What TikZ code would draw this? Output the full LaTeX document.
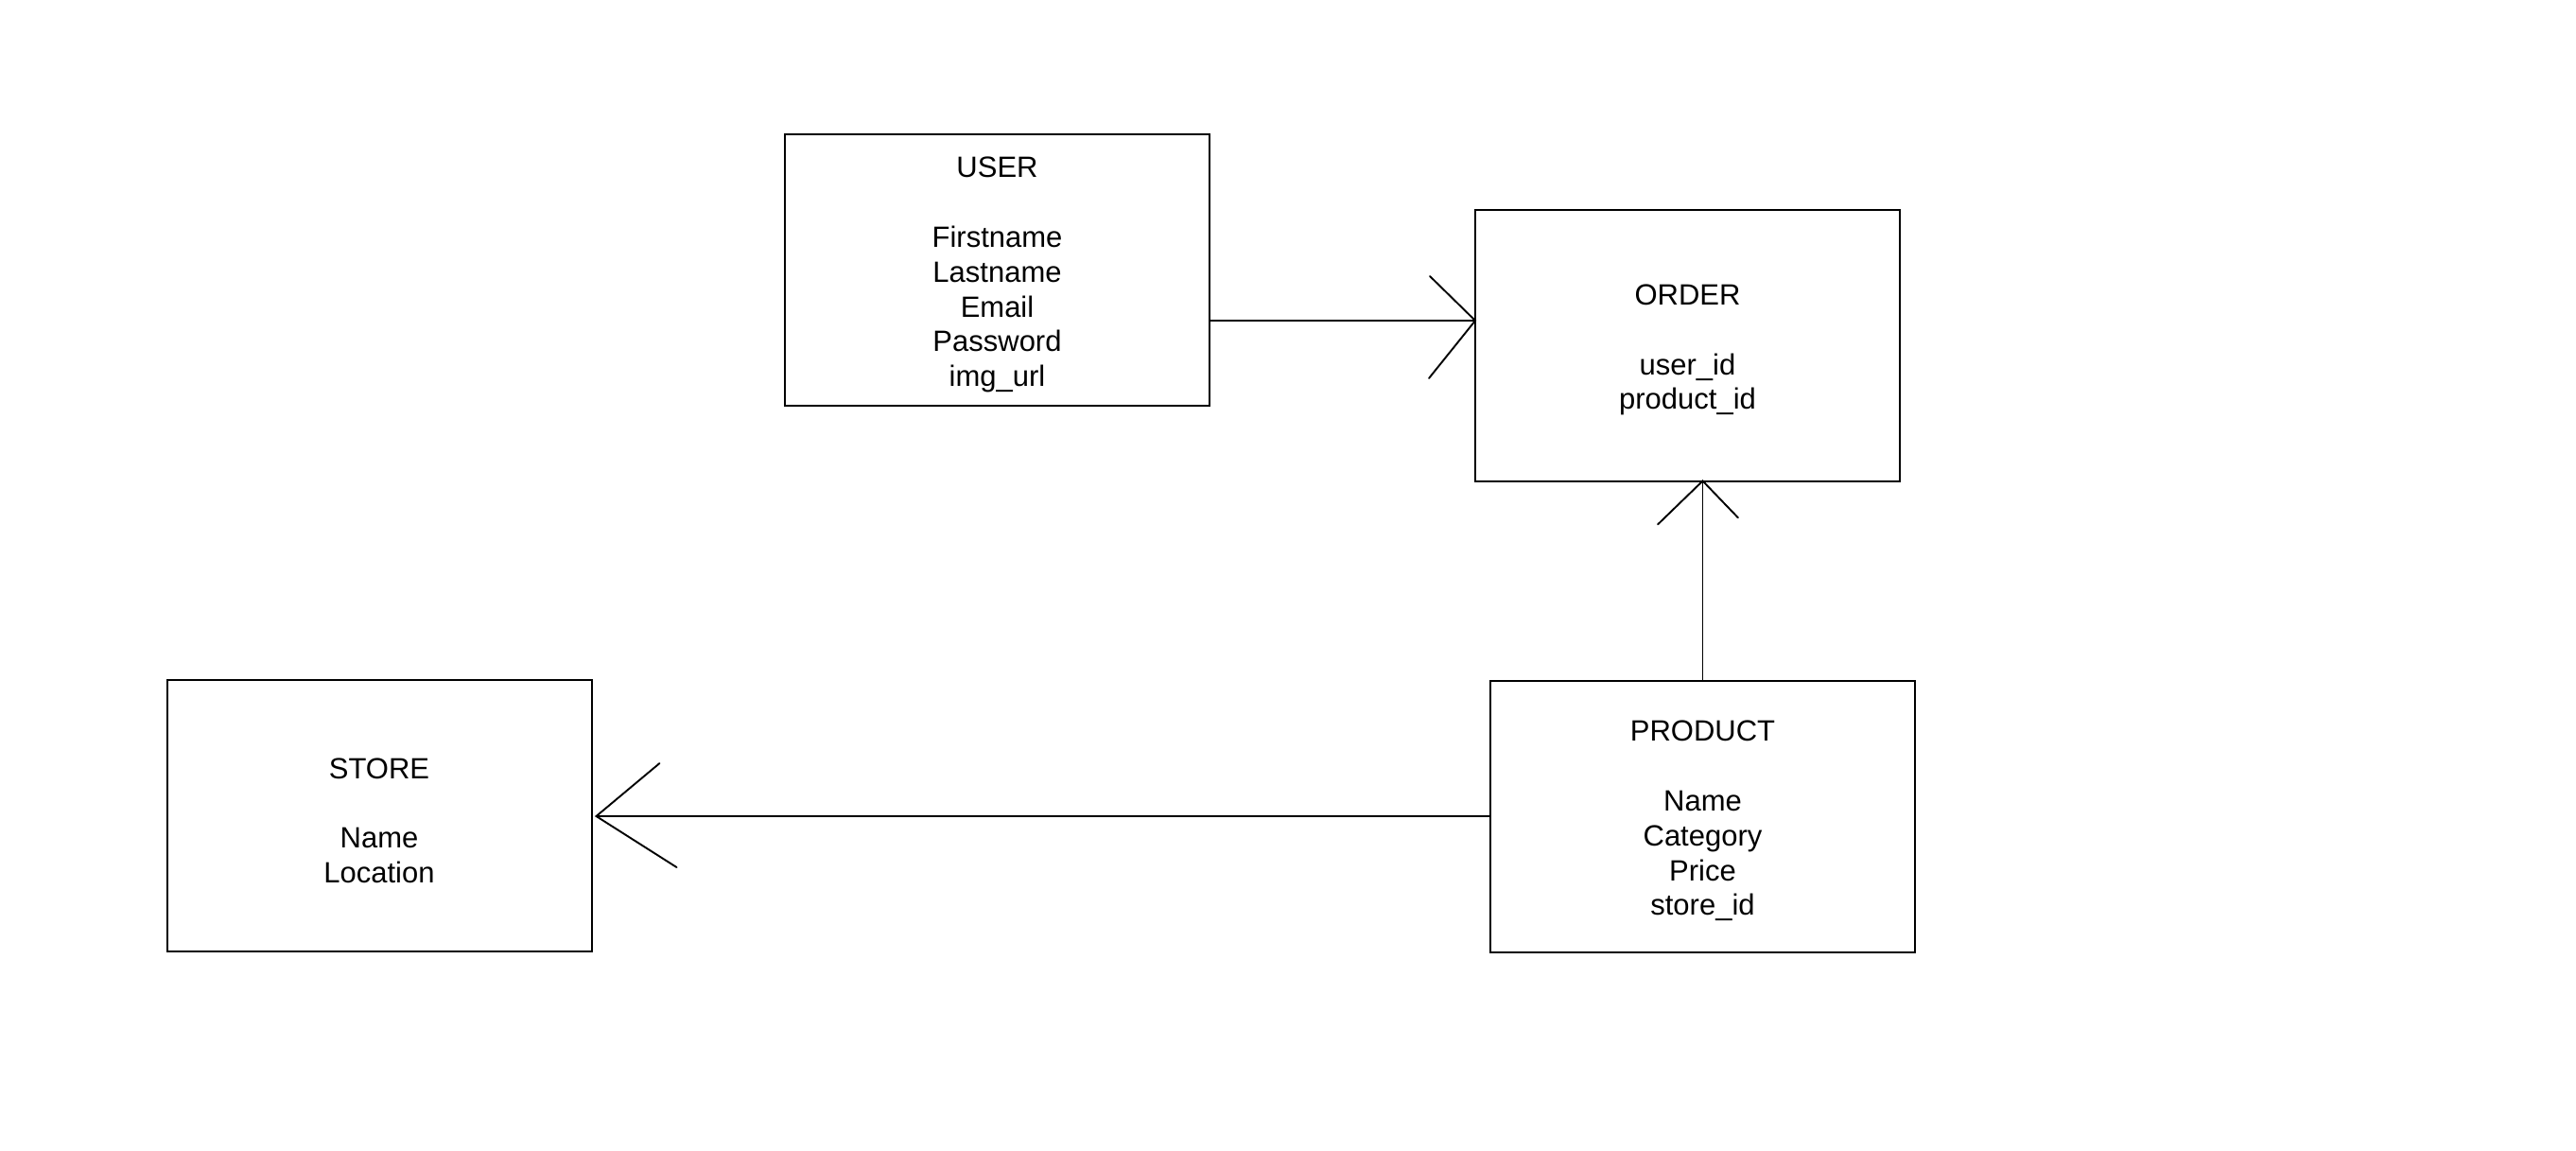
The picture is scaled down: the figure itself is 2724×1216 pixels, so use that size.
\documentclass[tikz,border=0pt]{standalone}
\usepackage{fontspec}
\setmainfont{Liberation Sans}
\usetikzlibrary{calc}
\newcommand{\toppad}{\rule{0pt}{32pt}}
\begin{document}
\begin{tikzpicture}[x=1pt,y=-1pt,
  entity/.style={draw=black, line width=2pt, minimum width=449pt, minimum height=287pt,
    inner sep=0pt, outer sep=0pt, align=center, font=\fontsize{31}{36.8}\selectfont},
  conn/.style={draw=black, line width=1.9pt},
  foot/.style={draw=black, line width=1.9pt, line cap=round}]
\path[fill=white, use as bounding box] (0,0) rectangle (2724,1216);

\node[entity] (user) at (1054.5,285.5) {\toppad USER\\\mbox{}\\Firstname\\Lastname\\Email\\Password\\img\_url};
\node[entity] (order) at (1784.5,365) {\toppad ORDER\\\mbox{}\\user\_id\\product\_id};
\node[entity] (product) at (1800.5,863) {\toppad PRODUCT\\\mbox{}\\Name\\Category\\Price\\store\_id};
\node[entity] (store) at (401,862.5) {\toppad STORE\\\mbox{}\\Name\\Location};

% USER -> ORDER
\coordinate (u1) at ([yshift=-53.5pt]user.east);
\coordinate (t1) at (u1 -| order.west);
\draw[conn] (u1) -- (t1);
\draw[foot] ($(t1)+(-48,-47)$) -- (t1) -- ($(t1)+(-49,61)$);

% PRODUCT -> ORDER
\coordinate (t2) at (product.north |- order.south);
\draw[conn] (product.north) -- (t2);
\draw[foot] ($(t2)+(-47.5,46)$) -- (t2) -- ($(t2)+(37.5,39)$);

% PRODUCT -> STORE
\coordinate (s3) at ([xshift=5pt]store.east);
\coordinate (t3) at (s3 |- product.west);
\draw[conn] (product.west) -- (t3);
\draw[foot] ($(t3)+(67,-56)$) -- (t3) -- ($(t3)+(85,54)$);
\end{tikzpicture}
\end{document}
